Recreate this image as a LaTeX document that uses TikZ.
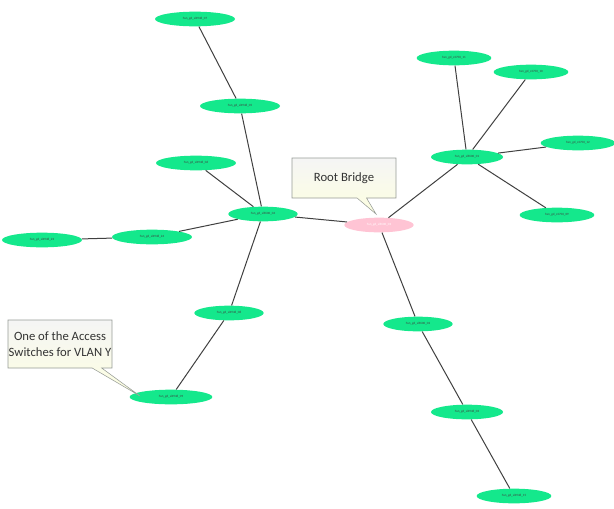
\documentclass[tikz,border=0pt]{standalone}
\usepackage{fontspec}
\setmainfont{Carlito}
\usetikzlibrary{shapes.geometric,shapes.callouts}
\definecolor{swgreen}{RGB}{20,232,140}
\definecolor{rootpink}{RGB}{255,196,212}
\definecolor{boxedge}{RGB}{150,155,150}
\tikzset{
  sw/.style={ellipse,fill=swgreen,minimum width=60pt,minimum height=11pt,inner sep=0pt,font=\fontsize{2.4}{3}\selectfont,text=black!75},
  rootsw/.style={sw,fill=rootpink,text=white},
  link/.style={draw=black!75,line width=0.75pt},
  note/.style={rectangle callout,draw=boxedge,top color=white!92!gray,bottom color=green!6!yellow!12!white,align=center,font=\fontsize{9.5}{11.5}\selectfont,text=black!80,inner sep=0pt}
}
\begin{document}
\begin{tikzpicture}[x=0.75pt,y=-0.75pt]
        \useasboundingbox (0,0) rectangle (614,508);
        % switches
        \node[sw] (s07) at (195,19) {hsn\_gd\_sl4948\_07};
        \node[sw] (s05) at (240,106) {hsn\_gd\_sl4948\_05};
        \node[sw] (s06) at (196,163) {hsn\_gd\_sl4948\_06};
        \node[sw,minimum width=52pt] (s04) at (263,214) {hsn\_gd\_sl6500\_04};
        \node[sw] (s23) at (42,240) {hsn\_gd\_sl4948\_23};
        \node[sw] (s24) at (152,237) {hsn\_gd\_sl4948\_24};
        \node[sw,minimum width=52pt] (s08) at (229,313) {hsn\_gd\_sl4948\_08};
        \node[sw,minimum width=62pt] (s09) at (171,397) {hsn\_gd\_sl4948\_09};
        \node[rootsw,minimum width=52pt] (root) at (379,225) {hsn\_gd\_sl6500\_03};
        \node[sw,minimum width=54pt] (s01) at (467,157) {hsn\_gd\_sl6500\_01};
        \node[sw,minimum width=56pt] (s11) at (454,58) {hsn\_gd\_c3750\_11};
        \node[sw,minimum width=56pt] (s10) at (531,72) {hsn\_gd\_c3750\_10};
        \node[sw,minimum width=56pt] (s12) at (578,143) {hsn\_gd\_c3750\_12};
        \node[sw,minimum width=56pt] (s13) at (557,215) {hsn\_gd\_c3750\_09};
        \node[sw,minimum width=52pt] (s02) at (418,324) {hsn\_gd\_sl6500\_02};
        \node[sw,minimum width=54pt] (s03) at (467,412) {hsn\_gd\_sl4948\_03};
        \node[sw,minimum width=56pt] (s15) at (514,496) {hsn\_gd\_sl4948\_15};
        % links
        \draw[link] (s07) -- (s05);
        \draw[link] (s05) -- (s04);
        \draw[link] (s06) -- (s04);
        \draw[link] (s04) -- (s24);
        \draw[link] (s24) -- (s23);
        \draw[link] (s04) -- (root);
        \draw[link] (s04) -- (s08);
        \draw[link] (s08) -- (s09);
        \draw[link] (root) -- (s01);
        \draw[link] (s01) -- (s11);
        \draw[link] (s01) -- (s10);
        \draw[link] (s01) -- (s12);
        \draw[link] (s01) -- (s13);
        \draw[link] (root) -- (s02);
        \draw[link] (s02) -- (s03);
        \draw[link] (s03) -- (s15);
        % callouts
        \coordinate (rootpt) at (376,214);
        \coordinate (accpt) at (140,396);
        \node[note,minimum width=78pt,minimum height=30pt,callout absolute pointer=(rootpt)] (rootnote) at (344,178) {Root Bridge};
        \node[note,minimum width=78pt,minimum height=36pt,callout absolute pointer=(accpt)] (accnote) at (60,344) {One of the Access\\Switches for VLAN Y};
\end{tikzpicture}
\end{document}
